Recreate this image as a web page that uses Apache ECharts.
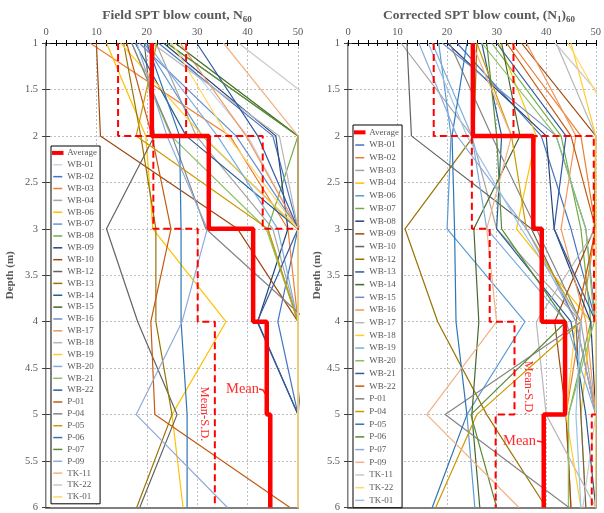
<!DOCTYPE html>
<html><head><meta charset="utf-8">
<script src="https://cdn.jsdelivr.net/npm/echarts@6/dist/echarts.min.js"></script>
<style>html,body{margin:0;padding:0;background:#fff}#c{width:604px;height:513px}</style>
</head><body><div id="c"></div>
<script>
// ---------- data ----------
const depths = [1, 2, 3, 4, 5, 6];
const sites = ['WB-01','WB-02','WB-03','WB-04','WB-06','WB-07','WB-08','WB-09','WB-10','WB-12','WB-13','WB-14','WB-15','WB-16','WB-17','WB-18','WB-19','WB-20','WB-21','WB-22','P-01','P-04','P-05','P-06','P-07','P-09','TK-11','TK-22','TK-01'];
const xTicks = [0, 10, 20, 30, 40, 50];

// Field SPT blow count N60 (values at depth 1..6 m)
const fieldN = [
  [24.7, 40, 50, 50, 50, 50],
  [22.3, 45, 50, 46, 50, 50],
  [8.7, 36.5, 48, 50, 50, 50],
  [21.8, 29.8, 45, 50, 50, 50],
  [12, 19.8, 21.2, 35.7, 25, 27.2],
  [19.5, 31, 50, 50, 50, 50],
  [23.9, 50, 44, 50, 50, 50],
  [23.3, 45.6, 48, 42, 50, 50],
  [10, 10.8, 38, 50, 50, 50],
  [19.5, 21.5, 12, 18.2, 26, 18.6],
  [15.4, 18.8, 21.8, 21.8, 25, 18],
  [17.7, 27.8, 50, 50, 50, 50],
  [25.6, 50, 50, 50, 50, 50],
  [18.5, 37.7, 50, 50, 50, 50],
  [26.6, 39.7, 50, 50, 50, 50],
  [21, 46.3, 50, 50, 50, 50],
  [14.8, 31.1, 50, 50, 50, 50],
  [20, 34, 46, 50, 50, 50],
  [17, 24.8, 43.7, 50, 50, 50],
  [29.9, 42, 50, 41.9, 50, 50],
  [16, 21, 24.8, 20.8, 21.6, 48.4],
  [17, 25, 31.7, 52, 50, 50],
  [22, 17.9, 44, 50, 50, 50],
  [20, 26.5, 26.8, 26.8, 28, 28],
  [24, 50, 50, 50, 50, 50],
  [18, 24, 32, 27, 17.9, 36],
  [35.2, 50, 50, 50, 50, 50],
  [38.2, 62, 50, 50, 50, 50],
  [25, 36, 50, 50, 50, 50]
];
// Corrected SPT blow count (N1)60
const corrN = [
  [22, 39, 45, 50, 50, 50],
  [33, 47, 50, 47, 44, 45],
  [10.7, 25, 30, 47, 50, 50],
  [30.5, 38, 34, 49, 47, 48],
  [18.3, 20.8, 20, 35.7, 24, 25.6],
  [29, 43, 47, 49, 44.5, 44.5],
  [20, 40, 41.6, 49, 50, 50],
  [35, 50, 49.7, 41.7, 44, 45],
  [11.9, 12.8, 37, 46, 47, 48],
  [26, 25.4, 11.5, 18.1, 28, 40],
  [27, 31, 30, 45, 48, 50],
  [31, 34.7, 25.4, 26.4, 25, 26.6],
  [19, 42, 48, 50, 50, 50],
  [36, 46, 43, 48, 50, 50],
  [42, 50, 50, 38, 40, 50],
  [45, 50, 50, 46, 44, 47],
  [17, 25, 28, 44, 50, 50],
  [27, 42, 48, 49.7, 44.5, 44.5],
  [30, 44, 41.6, 50, 50, 50],
  [32, 45, 50, 46, 50, 50],
  [20.5, 29, 38, 47, 19.6, 44.6],
  [26, 33, 36, 47, 26, 17.7],
  [24, 21, 21.5, 21.8, 24, 17],
  [28, 30, 31, 44, 24.8, 30],
  [14.3, 22, 36, 46, 50, 50],
  [25, 33, 28, 30, 15.9, 34.5],
  [41.8, 58, 50, 50, 50, 47.4],
  [44.4, 55, 50, 50, 50, 50],
  [16.2, 24, 35, 47, 46, 47]
];
// interval statistics (depth 1-2, 2-3, 3-4, 4-5, 5-6)
const fieldMean = [21, 32.3, 41.1, 43.8, 44.5];
const fieldMeanMinusSD = [14.3, 21.3, 30.1, 33.5, 33.5];
const fieldMeanPlusSD = [27.8, 43, 52, 52, 52];
const corrMean = [25.2, 37.4, 39.1, 43.8, 39.5];
const corrMeanMinusSD = [17.3, 25, 28.6, 33.6, 29.8];
const corrMeanPlusSD = [33.4, 49.6, 49.7, 52, 49.2];

const corrColors = ['#4472C4','#ED7D31','#A5A5A5','#FFC000','#5B9BD5','#70AD47','#264478','#9E480E','#636363','#997300','#255E91','#43682B','#698ED0','#F1975A','#B7B7B7','#FFCD33','#7CAFDD','#8CC168','#335AA1','#C55A11','#848484','#CC9A00','#2E75B6','#5A8A38','#8FAADC','#F4B183','#C9C9C9','#FFD966','#9DC3E6'];
const fieldColors = ['#C5D8EE'].concat(corrColors.slice(0, 28));

// ---------- chart ----------
const FONT = '"Liberation Serif", "Times New Roman", serif';
const TXT = '#595959';
const ZW = '\u200b';
const chart = echarts.init(document.getElementById('c'), null, {renderer: 'canvas'});

function stepPts(vals) {
  const out = [];
  vals.forEach((v, i) => { out.push([v, depths[i]]); out.push([v, depths[i + 1]]); });
  return out;
}

const grids = [
  {left: 46, top: 43, width: 252, height: 468},
  {left: 348, top: 43, width: 252, height: 468}
];
const xAxis = [], yAxis = [], series = [];
const dotted = {color: '#BFBFBF', type: [2, 2], width: 1};
[0, 1].forEach(g => {
  xAxis.push({gridIndex: g, type: 'value', position: 'top', min: 0, max: 50, interval: 10,
    axisLine: {show: true, lineStyle: {color: '#000', width: 1.2}},
    axisTick: {show: true, length: 3, lineStyle: {color: '#000'}},
    minorTick: {show: true, splitNumber: 5, length: 3, lineStyle: {color: '#000'}},
    axisLabel: {fontFamily: FONT, fontSize: 10.5, color: TXT, margin: 5,
      formatter: v => xTicks.includes(v) ? String(v) : ''},
    splitLine: {show: true, lineStyle: dotted}});
  xAxis.push({gridIndex: g, type: 'value', position: 'top', min: 0, max: 50, interval: 10,
    axisLine: {show: false},
    axisTick: {show: true, inside: true, length: 3, lineStyle: {color: '#000'}},
    minorTick: {show: true, splitNumber: 5, length: 3, lineStyle: {color: '#000'}},
    axisLabel: {show: false}, splitLine: {show: false}});
  xAxis.push({gridIndex: g, type: 'value', position: 'bottom', min: 0, max: 50, interval: 10,
    axisLine: {show: true, lineStyle: {color: '#7F7F7F', width: 2}},
    axisTick: {show: false}, axisLabel: {show: false}, splitLine: {show: false}});
  yAxis.push({gridIndex: g, type: 'value', inverse: true, min: 1, max: 6, interval: 0.5, position: 'left',
    axisLine: {show: true, lineStyle: {color: '#7F7F7F', width: 2}},
    axisTick: {show: true, length: 4, lineStyle: {color: '#404040'}},
    axisLabel: {fontFamily: FONT, fontSize: 10.5, color: TXT, margin: 8},
    splitLine: {show: true, lineStyle: dotted},
    name: 'Depth (m)', nameLocation: 'middle', nameGap: g === 0 ? 30 : 24,
    nameTextStyle: {fontFamily: FONT, fontSize: 11, fontWeight: 'bold', color: TXT}});
  yAxis.push({gridIndex: g, type: 'value', inverse: true, min: 1, max: 6, interval: 0.5, position: 'left',
    axisLine: {show: false},
    axisTick: {show: true, inside: true, length: 4, lineStyle: {color: '#404040'}},
    axisLabel: {show: false}, splitLine: {show: false}});
  yAxis.push({gridIndex: g, type: 'value', inverse: true, min: 1, max: 6, interval: 0.5, position: 'right',
    axisLine: {show: true, lineStyle: {color: '#BFBFBF', width: 1}},
    axisTick: {show: false}, axisLabel: {show: false}, splitLine: {show: false}});

  const vals = g === 0 ? fieldN : corrN;
  const cols = g === 0 ? fieldColors : corrColors;
  const sfx = g === 0 ? '' : ZW;
  const mean = g === 0 ? fieldMean : corrMean;
  const lo = g === 0 ? fieldMeanMinusSD : corrMeanMinusSD;
  const hi = g === 0 ? fieldMeanPlusSD : corrMeanPlusSD;
  series.push({name: 'Average' + sfx, type: 'line', xAxisIndex: 3 * g, yAxisIndex: 3 * g,
    data: stepPts(mean), symbol: 'none', clip: true, z: 10, silent: true,
    lineStyle: {color: '#FF0000', width: 4.5}, itemStyle: {color: '#FF0000'}});
  [lo, hi].forEach((arr, k) => series.push({name: (k ? 'plusSD' : 'minusSD') + g, type: 'line',
    xAxisIndex: 3 * g, yAxisIndex: 3 * g, data: stepPts(arr), symbol: 'none', clip: true, z: 9, silent: true,
    lineStyle: {color: '#FF0000', width: 2, type: [7, 4]}}));
  sites.forEach((s, i) => series.push({name: s + sfx, type: 'line', xAxisIndex: 3 * g, yAxisIndex: 3 * g,
    data: vals[i].map((v, j) => [v, depths[j]]), symbol: 'none', clip: true, z: 2, silent: true,
    lineStyle: {color: cols[i], width: 1.2}, itemStyle: {color: cols[i]}}));
});

function legendFor(g) {
  const sfx = g === 0 ? '' : ZW;
  const items = [{name: 'Average' + sfx, icon: 'rect',
    itemStyle: {color: '#FF0000', borderColor: '#FF0000', borderWidth: 2.5}}]
    .concat(sites.map(s => ({name: s + sfx, icon: 'rect'})));
  return {
    orient: 'vertical', left: g === 0 ? 51 : 353, top: g === 0 ? 146 : 125,
    data: items,
    formatter: n => n.replace(ZW, ''),
    itemWidth: 9, itemHeight: 1.5, itemGap: 0,
    padding: [1, 3, 1, 1], borderColor: '#000', borderWidth: 1, backgroundColor: '#fff',
    selectedMode: false,
    textStyle: {fontFamily: FONT, fontSize: 9, color: TXT, lineHeight: g === 0 ? 11.86 : 12.69}
  };
}

const red = '#FF2A2A';
const graphic = [
  {type: 'text', x: 226, y: 389, style: {text: 'Mean', font: '14.5px ' + FONT, fill: red, verticalAlign: 'middle'}},
  {type: 'polyline', shape: {points: [[259, 389], [263, 390], [266, 395]]}, style: {stroke: red, lineWidth: 1.5, fill: null}},
  {type: 'text', x: 204, y: 414, rotation: -Math.PI / 2,
    style: {text: 'Mean-S.D.', font: '12.5px ' + FONT, fill: red, align: 'center', verticalAlign: 'middle'}},
  {type: 'text', x: 503, y: 441, style: {text: 'Mean', font: '14.5px ' + FONT, fill: red, verticalAlign: 'middle'}},
  {type: 'polyline', shape: {points: [[537, 441], [542, 442], [546, 447]]}, style: {stroke: red, lineWidth: 1.5, fill: null}},
  {type: 'text', x: 528, y: 388, rotation: -Math.PI / 2,
    style: {text: 'Mean-S.D.', font: '12.5px ' + FONT, fill: red, align: 'center', verticalAlign: 'middle'}}
];

const titleRich = {
  a: {fontFamily: FONT, fontSize: 13.5, fontWeight: 'bold', color: TXT, lineHeight: 16},
  b: {fontFamily: FONT, fontSize: 9, fontWeight: 'bold', color: TXT, lineHeight: 16, padding: [7, 0, 0, 0]}
};

chart.setOption({
  animation: false,
  backgroundColor: '#fff',
  title: [
    {text: '{a|Field SPT blow count, N}{b|60}', left: 172, top: 3, textAlign: 'center',
      textStyle: {rich: titleRich}},
    {text: '{a|Corrected SPT blow count, (N}{b|1}{a|)}{b|60}', left: 474, top: 3, textAlign: 'center',
      textStyle: {rich: titleRich}}
  ],
  grid: grids,
  xAxis: xAxis,
  yAxis: yAxis,
  legend: [legendFor(0), legendFor(1)],
  series: series,
  graphic: graphic
});
</script></body></html>
